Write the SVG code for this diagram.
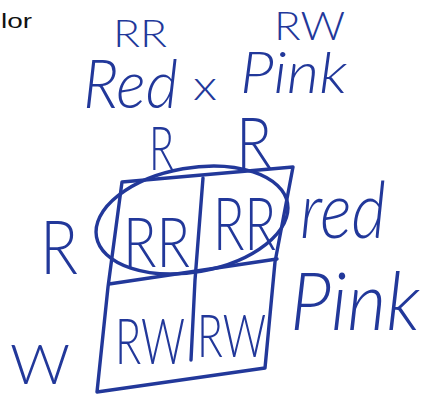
<svg xmlns="http://www.w3.org/2000/svg" width="425" height="398" viewBox="0 0 425 398">
<style>
.ink{fill:#22389a;font-family:"Lato","Roboto","Liberation Sans",sans-serif;font-weight:300}
.ln{fill:none;stroke:#22389a;stroke-width:3.4;stroke-linecap:round;stroke-linejoin:round}
.hd{font-style:italic}
</style>
<rect width="425" height="398" fill="#ffffff"/>
<text x="1" y="28" font-family="'Liberation Sans',Arial,sans-serif" font-size="21" fill="#111" textLength="31" lengthAdjust="spacingAndGlyphs">lor</text>
<g id="cross">
<text class="ink" x="113" y="47" font-size="38" textLength="54" lengthAdjust="spacingAndGlyphs">RR</text>
<text class="ink" x="274" y="40" font-size="40" textLength="71" lengthAdjust="spacingAndGlyphs">RW</text>
<text class="ink hd" x="83" y="108" font-size="68" textLength="95" lengthAdjust="spacingAndGlyphs">Red</text>
<text class="ink" x="193" y="100" font-size="42" textLength="24" lengthAdjust="spacingAndGlyphs">x</text>
<text class="ink hd" x="240" y="93" font-size="58" textLength="107" lengthAdjust="spacingAndGlyphs">Pink</text>
</g>
<g id="gametes">
<text class="ink" x="149" y="170" font-size="62" textLength="25" lengthAdjust="spacingAndGlyphs">R</text>
<text class="ink" x="236" y="168" font-size="70" textLength="36" lengthAdjust="spacingAndGlyphs">R</text>
<text class="ink" x="40" y="274" font-size="75" textLength="38" lengthAdjust="spacingAndGlyphs">R</text>
<text class="ink" x="10" y="384" font-size="56" textLength="60" lengthAdjust="spacingAndGlyphs">W</text>
</g>
<g id="connectors">
<path class="ln" d="M122 182 L293 167 L275 262 L265 368 L97 392 L108 287 Z"/>
<path class="ln" d="M109 284 L277 259"/>
<path class="ln" d="M203 178 L195 280 L191 360"/>
<ellipse class="ln" cx="192" cy="220" rx="97" ry="52" transform="rotate(-10 192 220)"/>
</g>
<g id="cells">
<text class="ink" x="123" y="267" font-size="68" textLength="67" lengthAdjust="spacingAndGlyphs">RR</text>
<text class="ink" x="213" y="250" font-size="72" textLength="63" lengthAdjust="spacingAndGlyphs">RR</text>
<text class="ink" x="115" y="364" font-size="64" textLength="70" lengthAdjust="spacingAndGlyphs">RW</text>
<text class="ink" x="197" y="357" font-size="60" textLength="69" lengthAdjust="spacingAndGlyphs">RW</text>
</g>
<g id="phenotypes">
<text class="ink hd" x="300" y="238" font-size="78" textLength="86" lengthAdjust="spacingAndGlyphs">red</text>
<text class="ink hd" x="290" y="330" font-size="80" textLength="130" lengthAdjust="spacingAndGlyphs">Pink</text>
</g>
</svg>
